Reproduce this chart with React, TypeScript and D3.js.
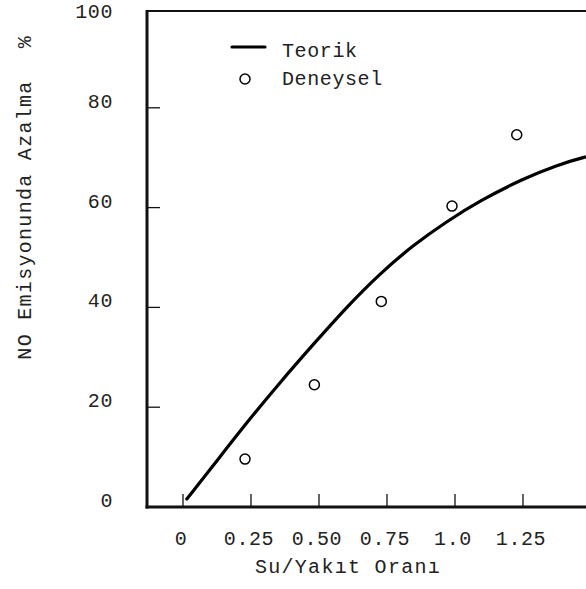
import React from "react";
import * as d3 from "d3";

// Theoretical curve: water/fuel ratio vs NO reduction (%)
const teorikX = [0.014, 0.111, 0.234, 0.357, 0.479, 0.602, 0.724, 0.847, 0.969, 1.092, 1.251, 1.374, 1.485, 1.55];
const teorikY = [1.6, 8.3, 16.9, 25.0, 32.6, 40.1, 46.8, 52.5, 57.2, 61.4, 65.8, 68.5, 70.3, 71.0];

// Experimental measurements
const deneyselX = [0.228, 0.483, 0.729, 0.989, 1.227];
const deneyselY = [9.6, 24.5, 41.2, 60.3, 74.6];

const xTickValues = [0, 0.25, 0.5, 0.75, 1.0, 1.25];
const xTickLabels = ["0", "0.25", "0.50", "0.75", "1.0", "1.25"];
const yTickValues = [0, 20, 40, 60, 80, 100];
const yTickLabels = ["0", "20", "40", "60", "80", "100"];

const W = 586;
const H = 589;
const FONT = "'Liberation Mono', 'DejaVu Sans Mono', monospace";

export default function App() {
  const x = d3.scaleLinear().domain([0, 1]).range([183, 455]);
  const y = d3.scaleLinear().domain([0, 100]).range([507, 8]);
  const left = 147;
  const bottom = y(0);

  const line = d3
    .line<number>()
    .x((_, i) => x(teorikX[i]))
    .y((d) => y(d))
    .curve(d3.curveBasis);

  const textStyle: React.CSSProperties = {
    fontFamily: FONT,
    fontSize: 20,
    letterSpacing: 0.6,
    fill: "#222",
  };
  const wideStyle: React.CSSProperties = { ...textStyle, letterSpacing: 1.3 };

  return (
    <svg
      width={W}
      height={H}
      style={{ position: "absolute", left: 0, top: 0, background: "#fff" }}
    >
      <defs>
        <clipPath id="plot">
          <rect x={left} y={0} width={W - left} height={bottom + 2} />
        </clipPath>
      </defs>

      {/* frame */}
      <line x1={left} y1={11} x2={W + 5} y2={11} stroke="#111" strokeWidth={2} />
      <line x1={left} y1={10} x2={left} y2={bottom + 1.5} stroke="#111" strokeWidth={3} />
      <line x1={left - 1.5} y1={bottom} x2={W + 5} y2={bottom} stroke="#111" strokeWidth={3} />

      {/* y ticks (inward) */}
      {yTickValues.slice(1, 5).map((v) => (
        <line key={"yt" + v} x1={left} x2={left + 13} y1={y(v)} y2={y(v)} stroke="#111" strokeWidth={1.3} />
      ))}
      {/* x ticks (inward) */}
      {xTickValues.map((v) => (
        <line key={"xt" + v} x1={x(v)} x2={x(v)} y1={bottom} y2={bottom - 13} stroke="#111" strokeWidth={1.3} />
      ))}

      {/* y tick labels */}
      {yTickValues.map((v, i) => (
        <text key={"yl" + v} x={113} y={Math.max(y(v), 18)} textAnchor="end" style={textStyle}>
          {yTickLabels[i]}
        </text>
      ))}
      {/* x tick labels */}
      {xTickValues.map((v, i) => (
        <text key={"xl" + v} x={x(v) - 2} y={545} textAnchor="middle" style={textStyle}>
          {xTickLabels[i]}
        </text>
      ))}

      {/* axis titles */}
      <text x={348} y={573} textAnchor="middle" style={wideStyle}>
        Su/Yakıt Oranı
      </text>
      <text transform="translate(31,220) rotate(-90)" textAnchor="middle" style={wideStyle}>
        NO Emisyonunda Azalma
      </text>
      <text transform="translate(31,42) rotate(-90)" textAnchor="middle" style={textStyle}>
        %
      </text>

      {/* data */}
      <g clipPath="url(#plot)">
        <path d={line(teorikY) ?? ""} fill="none" stroke="#000" strokeWidth={3.2} strokeLinecap="round" />
        {deneyselX.map((v, i) => (
          <circle key={"p" + i} cx={x(v)} cy={y(deneyselY[i])} r={5} fill="#fff" stroke="#000" strokeWidth={1.5} />
        ))}
      </g>

      {/* legend */}
      <line x1={232} x2={265} y1={47} y2={47} stroke="#000" strokeWidth={3.2} strokeLinecap="round" />
      <text x={282} y={57} style={textStyle}>Teorik</text>
      <circle cx={245} cy={79} r={5} fill="#fff" stroke="#000" strokeWidth={1.5} />
      <text x={282} y={85} style={textStyle}>Deneysel</text>
    </svg>
  );
}
